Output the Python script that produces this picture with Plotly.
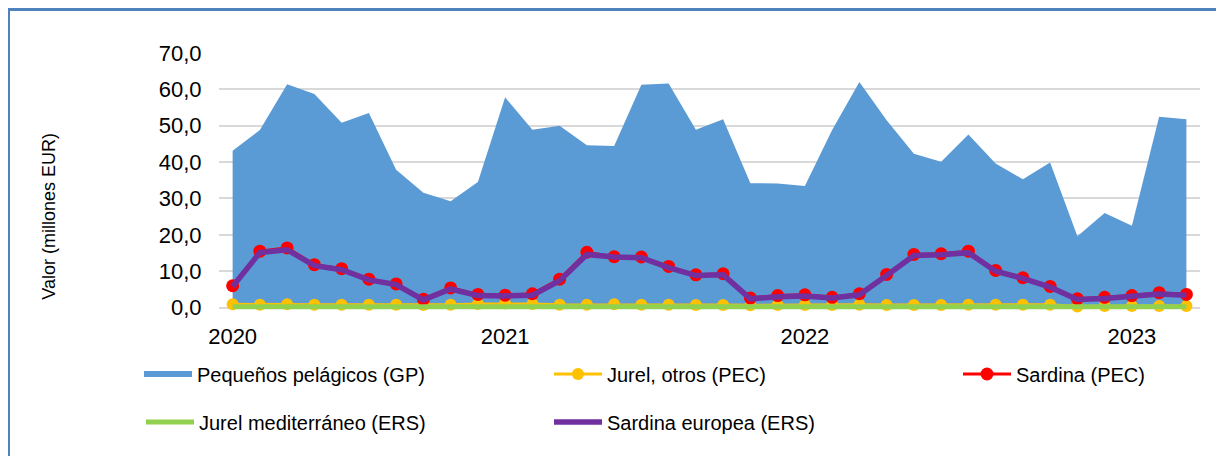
import plotly.graph_objects as go

# 36 periodos (eje de categorías), etiquetas de año en posiciones concretas
periodos = list(range(36))
anio_pos = [0, 10, 21, 33]
anio_txt = ["2020", "2021", "2022", "2023"]

pequenos_pelagicos = [43.1, 48.8, 61.4, 58.7, 50.8, 53.5, 37.9, 31.6, 29.2, 34.5,
                      57.8, 48.9, 50.0, 44.6, 44.4, 61.3, 61.6, 48.9, 51.8, 34.2,
                      34.1, 33.4, 48.8, 62.0, 51.5, 42.3, 40.1, 47.6, 39.6, 35.3,
                      39.9, 19.6, 26.0, 22.5, 52.5, 51.8]
jurel_otros = [0.9, 0.8, 0.9, 0.8, 0.8, 0.8, 0.8, 0.7, 0.8, 1.0,
               1.1, 1.0, 0.8, 0.8, 0.9, 0.8, 0.8, 0.7, 0.7, 0.6,
               0.7, 0.7, 0.7, 0.8, 0.7, 0.7, 0.7, 0.8, 0.8, 0.8,
               0.8, 0.3, 0.4, 0.4, 0.4, 0.4]
sardina_pec = [6.0, 15.5, 16.4, 11.8, 10.7, 7.8, 6.5, 2.3, 5.4, 3.6,
               3.4, 3.8, 7.8, 15.2, 14.0, 13.9, 11.3, 9.0, 9.3, 2.6,
               3.3, 3.5, 2.8, 3.8, 9.1, 14.6, 14.8, 15.5, 10.2, 8.2,
               5.8, 2.4, 2.8, 3.3, 4.1, 3.6]
jurel_med = [0.2, 0.2, 0.2, 0.2, 0.2, 0.2, 0.2, 0.2, 0.2, 0.2,
             0.2, 0.2, 0.2, 0.2, 0.2, 0.2, 0.2, 0.2, 0.2, 0.2,
             0.2, 0.2, 0.2, 0.2, 0.2, 0.2, 0.2, 0.2, 0.2, 0.2,
             0.2, 0.2, 0.2, 0.2, 0.2, 0.2]
sardina_eur = [5.8, 15.1, 15.9, 11.5, 10.4, 7.6, 6.3, 2.1, 5.1, 3.3,
               3.2, 3.4, 7.4, 14.6, 13.9, 13.7, 11.0, 8.8, 9.0, 2.4,
               3.0, 3.2, 2.6, 3.5, 8.8, 14.3, 14.5, 15.1, 10.0, 8.0,
               5.6, 2.2, 2.5, 3.0, 3.7, 3.4]

FONT = "Liberation Sans, Arial, sans-serif"
W, H = 1216, 448  # la página añade 8 px de margen

fig = go.Figure()
fig.add_trace(go.Scatter(x=periodos, y=pequenos_pelagicos, name="Pequeños pelágicos (GP)",
                         mode="none", fill="tozeroy", fillcolor="#5B9BD5", legend="legend"))
fig.add_trace(go.Scatter(x=periodos, y=jurel_otros, name="Jurel, otros (PEC)", mode="lines+markers",
                         line=dict(color="#FFC000", width=3), marker=dict(color="#FFC000", size=12),
                         cliponaxis=False, legend="legend2"))
fig.add_trace(go.Scatter(x=periodos, y=sardina_pec, name="Sardina (PEC)", mode="lines+markers",
                         line=dict(color="#FF0000", width=3), marker=dict(color="#FF0000", size=13),
                         cliponaxis=False, legend="legend3"))
fig.add_trace(go.Scatter(x=periodos, y=jurel_med, name="Jurel mediterráneo (ERS)", mode="lines",
                         line=dict(color="#92D050", width=5), legend="legend4"))
fig.add_trace(go.Scatter(x=periodos, y=sardina_eur, name="Sardina europea (ERS)", mode="lines",
                         line=dict(color="#7030A0", width=5.5), legend="legend5"))


def leyenda(xpx, ypx):
    return dict(orientation="h", xref="container", yref="container",
                xanchor="left", yanchor="middle", x=xpx / W, y=1 - ypx / H,
                itemwidth=48, bgcolor="rgba(0,0,0,0)",
                font=dict(family=FONT, size=20, color="#000000"))


fig.update_layout(
    width=W, height=H,
    margin=dict(l=211, r=24, t=45, b=142.5, autoexpand=False),
    paper_bgcolor="white", plot_bgcolor="white",
    font=dict(family=FONT, size=22, color="#000000"),
    showlegend=True,
    legend=leyenda(131, 366),
    legend2=leyenda(541, 366),
    legend3=leyenda(950, 366),
    legend4=leyenda(133, 414),
    legend5=leyenda(541, 414),
    xaxis=dict(type="linear", range=[-0.5, 35.5], tickmode="array", tickvals=anio_pos,
               ticktext=anio_txt, showgrid=False, zeroline=False, showline=False,
               automargin=False, ticks="outside", ticklen=4, tickcolor="rgba(0,0,0,0)",
               tickfont=dict(family=FONT, size=22)),
    yaxis=dict(range=[-1.5, 70], tickmode="array", tickvals=[0, 10, 20, 30, 40, 50, 60, 70],
               ticktext=["0,0", "10,0", "20,0", "30,0", "40,0", "50,0", "60,0", "70,0"],
               showgrid=True, gridcolor="#D9D9D9", gridwidth=2, zeroline=False,
               showline=False, automargin=False, ticks="outside", ticklen=12,
               tickcolor="rgba(0,0,0,0)", tickfont=dict(family=FONT, size=22)),
    annotations=[dict(text="Valor (millones EUR)", xref="paper", yref="paper",
                      x=-0.1733, y=0.374, xanchor="center", yanchor="middle",
                      textangle=-90, showarrow=False,
                      font=dict(family=FONT, size=18, color="#000000"))],
    shapes=[dict(type="rect", xref="paper", yref="paper", x0=-0.2146, x1=1.04,
                 y0=-0.7, y1=1.167, line=dict(color="#4F81BD", width=3),
                 fillcolor="rgba(0,0,0,0)", layer="below")],
)

fig.write_html("out.html")
